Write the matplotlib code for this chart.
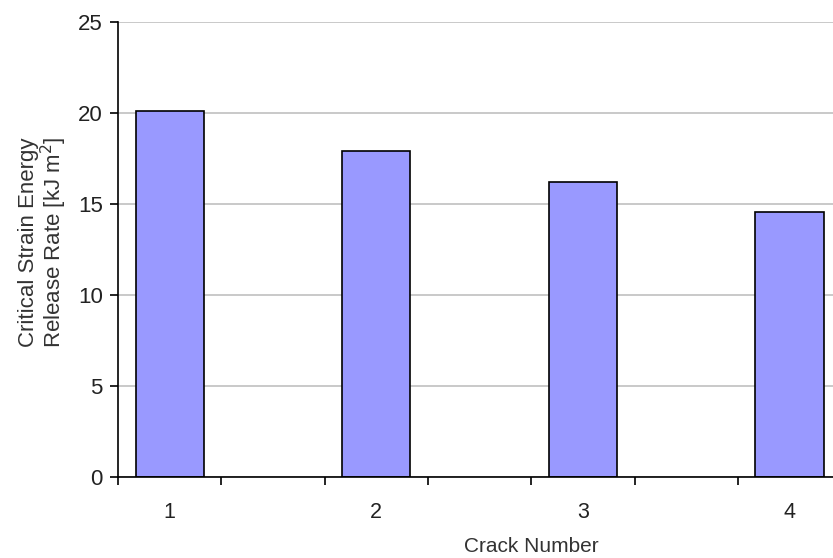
import matplotlib.pyplot as plt
import numpy as np

plt.rcParams['font.family'] = ['Liberation Sans', 'DejaVu Sans']

crack_labels = ['1', '2', '3', '4']
release_rate = [20.1, 17.9, 16.2, 14.55]

# bars sit on every other slot of a half-category axis, as in the original spreadsheet chart
slots = np.arange(len(release_rate)) * 2 + 0.5

fig = plt.figure(figsize=(8.33, 5.58), dpi=100)
ax = fig.add_axes([118 / 833, 1 - 477 / 558, 826.5 / 833, (477 - 22) / 558])

ax.bar(slots, release_rate, width=0.66, color='#9999ff', edgecolor='black', linewidth=1.2, zorder=3)

ax.set_xlim(0, 8)
ax.set_ylim(0, 25)
ax.set_yticks(np.arange(0, 26, 5))
ax.set_xticks(np.arange(0, 9, 1))
ax.set_xticklabels([])
ax.set_xticks(slots, minor=True)
ax.set_xticklabels(crack_labels, minor=True)
ax.tick_params(axis='x', which='minor', length=0, pad=18, labelsize=15.5)
ax.tick_params(axis='x', which='major', length=6, width=1.2, direction='out')
ax.tick_params(axis='y', length=6, width=1.2, direction='out', labelsize=16, pad=5)

ax.grid(axis='y', color='#c0c0c0', linewidth=1.2, zorder=0)
ax.spines['top'].set_visible(False)
ax.spines['right'].set_visible(False)
ax.spines['left'].set_linewidth(1.2)
ax.spines['bottom'].set_linewidth(1.2)
ax.spines['bottom'].set_zorder(4)

ax.set_xlabel('Crack Number', fontsize=15, color='#333333', labelpad=10)
ax.set_ylabel('Critical Strain Energy\nRelease Rate [kJ m$^{2}$]', fontsize=16, color='#333333',
              linespacing=1.0)
ax.yaxis.set_label_coords(-0.059, 0.515)
for lbl in ax.get_xticklabels(minor=True) + ax.get_yticklabels():
    lbl.set_color('#222222')

fig.savefig('out.png', dpi=100)
